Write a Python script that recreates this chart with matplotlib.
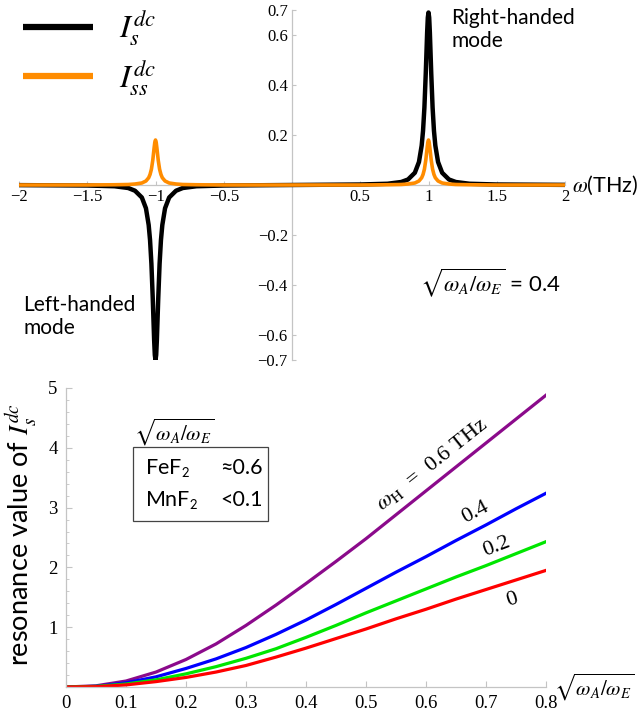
import matplotlib
matplotlib.use("Agg")
import matplotlib.pyplot as plt
import matplotlib.patches as patches

plt.rcParams['mathtext.fontset'] = 'stix'
plt.rcParams['font.family'] = ['Lato', 'DejaVu Sans']

# ---- top panel: dc spin current vs frequency ----
omega = [-2.0, -1.5, -1.3, -1.2, -1.15, -1.1, -1.07, -1.05, -1.04, -1.03, -1.02, -1.01, -1.005,
         -1.0, -0.995, -0.99, -0.98, -0.97, -0.96, -0.95, -0.93, -0.9, -0.85, -0.8, -0.7, -0.5,
         0.0,
         0.5, 0.7, 0.8, 0.85, 0.9, 0.93, 0.95, 0.96, 0.97, 0.98, 0.99, 0.995,
         1.0, 1.005, 1.01, 1.02, 1.03, 1.04, 1.05, 1.07, 1.1, 1.15, 1.2, 1.3, 1.5, 2.0]
i_s = [-0.0005, -0.002, -0.005, -0.012, -0.023, -0.050, -0.093, -0.160, -0.220, -0.315, -0.455, -0.620, -0.680,
       -0.700, -0.680, -0.620, -0.455, -0.315, -0.220, -0.160, -0.093, -0.050, -0.023, -0.012, -0.005, -0.002,
       0.0,
       0.002, 0.005, 0.012, 0.022, 0.049, 0.092, 0.158, 0.217, 0.310, 0.448, 0.610, 0.670,
       0.690, 0.670, 0.610, 0.448, 0.310, 0.217, 0.158, 0.092, 0.049, 0.022, 0.012, 0.005, 0.002, 0.0005]
i_ss = [0.0, 0.0, 0.001, 0.002, 0.004, 0.008, 0.016, 0.029, 0.042, 0.063, 0.099, 0.149, 0.171,
        0.180, 0.171, 0.149, 0.099, 0.063, 0.042, 0.029, 0.016, 0.008, 0.004, 0.002, 0.001, 0.0,
        0.0,
        0.0, 0.001, 0.002, 0.004, 0.008, 0.016, 0.029, 0.042, 0.063, 0.099, 0.149, 0.171,
        0.180, 0.171, 0.149, 0.099, 0.063, 0.042, 0.029, 0.016, 0.008, 0.004, 0.002, 0.001, 0.0, 0.0]

top_xticks = [-2, -1.5, -1, -0.5, 0.5, 1, 1.5, 2]
top_xlabels = ['\u22122', '\u22121.5', '\u22121', '\u22120.5', '0.5', '1', '1.5', '2']
top_yticks = [-0.7, -0.6, -0.4, -0.2, 0.2, 0.4, 0.6, 0.7]
top_ylabels = ['\u22120.7', '\u22120.6', '\u22120.4', '\u22120.2', '0.2', '0.4', '0.6', '0.7']

# ---- bottom panel: resonance value vs sqrt(wA/wE) ----
ratio = [0, 0.05, 0.1, 0.15, 0.2, 0.25, 0.3, 0.35, 0.4, 0.45, 0.5, 0.55, 0.6, 0.65, 0.7, 0.75, 0.8]
res_h06 = [0, 0.02, 0.10, 0.25, 0.46, 0.72, 1.03, 1.37, 1.73, 2.10, 2.48, 2.88, 3.28, 3.68, 4.08, 4.48, 4.88]
res_h04 = [0, 0.01, 0.07, 0.17, 0.31, 0.47, 0.66, 0.88, 1.12, 1.38, 1.65, 1.92, 2.18, 2.45, 2.71, 2.98, 3.24]
res_h02 = [0, 0.01, 0.05, 0.12, 0.22, 0.34, 0.48, 0.64, 0.83, 1.03, 1.24, 1.44, 1.64, 1.84, 2.03, 2.23, 2.43]
res_h00 = [0, 0.005, 0.035, 0.09, 0.16, 0.25, 0.36, 0.50, 0.65, 0.81, 0.97, 1.14, 1.30, 1.47, 1.63, 1.79, 1.95]

bot_xticks = [0, 0.1, 0.2, 0.3, 0.4, 0.5, 0.6, 0.7, 0.8]
bot_xlabels = ['0', '0.1', '0.2', '0.3', '0.4', '0.5', '0.6', '0.7', '0.8']
bot_yticks = [1, 2, 3, 4, 5]

W, H = 642, 721
gray = '#c4c4c4'
serif = 'Liberation Serif'

fig = plt.figure(figsize=(W / 100, H / 100), dpi=100)

# ================= top =================
ax1 = fig.add_axes([19 / W, 1 - 360 / H, 546 / W, 350 / H])
l1, = ax1.plot(omega, i_s, color='black', lw=3.2, zorder=3, solid_capstyle='butt')
l2, = ax1.plot(omega, i_ss, color='#ff8c00', lw=2.6, zorder=4, solid_capstyle='butt')
ax1.set_xlim(-2, 2)
ax1.set_ylim(-0.7, 0.7)
for s in ['top', 'right']:
    ax1.spines[s].set_visible(False)
for s in ['left', 'bottom']:
    ax1.spines[s].set_position(('data', 0))
    ax1.spines[s].set_color(gray)
    ax1.spines[s].set_linewidth(0.9)
ax1.set_xticks(top_xticks)
ax1.set_xticklabels(top_xlabels)
ax1.set_yticks(top_yticks)
ax1.set_yticklabels(top_ylabels)
ax1.tick_params(direction='in', length=3, color=gray, labelsize=12,
                labelfontfamily=serif, pad=3)
ax1.patch.set_alpha(0)

leg = ax1.legend([l1, l2], [r'$I_s^{dc}$', r'$I_{ss}^{dc}$'], loc='upper left',
                 bbox_to_anchor=(10 / W, 1 + 4 / H), bbox_transform=fig.transFigure,
                 frameon=False, fontsize=23, handlelength=2.2, handletextpad=0.8,
                 labelspacing=0.3, borderaxespad=0)
for ln in leg.get_lines():
    ln.set_linewidth(4.5)

ax1.text(2.05, 0, r'$\omega$(THz)', fontsize=15.5, ha='left', va='center')
ax1.text(1.165, 0.71, 'Right-handed\nmode', fontsize=15, ha='left', va='top',
         linespacing=1.2)
ax1.text(-1.97, -0.44, 'Left-handed\nmode', fontsize=15, ha='left', va='top',
         linespacing=1.2)
ax1.text(0.94, -0.39, r'$\sqrt{\omega_A/\omega_E}$ = 0.4', fontsize=16,
         ha='left', va='center')

# ================= bottom =================
ax2 = fig.add_axes([66 / W, 1 - 687 / H, 480 / W, 299 / H])
ax2.plot(ratio, res_h06, color='#8b0a8b', lw=2.3)
ax2.plot(ratio, res_h04, color='#0000ff', lw=2.3)
ax2.plot(ratio, res_h02, color='#00e600', lw=2.3)
ax2.plot(ratio, res_h00, color='#ff0000', lw=2.3)
ax2.set_xlim(0, 0.8)
ax2.set_ylim(0, 5)
for s in ['top', 'right']:
    ax2.spines[s].set_visible(False)
for s in ['left', 'bottom']:
    ax2.spines[s].set_color(gray)
    ax2.spines[s].set_linewidth(0.9)
ax2.set_xticks(bot_xticks)
ax2.set_xticklabels(bot_xlabels)
ax2.set_yticks(bot_yticks)
ax2.set_yticks([v / 5 for v in range(1, 25) if v % 5], minor=True)
ax2.tick_params(which='both', direction='in', color=gray, labelsize=13.5,
                labelfontfamily=serif, pad=6)
ax2.tick_params(which='major', length=4)
ax2.tick_params(which='minor', length=2)

ax2.text(-0.094, 0.51, r'resonance value of $I_s^{dc}$', transform=ax2.transAxes,
         rotation=90, fontsize=19.5, ha='center', va='center')
ax2.text(0.813, 0, r'$\sqrt{\omega_A/\omega_E}$', fontsize=15, ha='left', va='center')

ax2.text(0.225, 0.853, r'$\sqrt{\omega_A/\omega_E}$', transform=ax2.transAxes,
         fontsize=15, ha='center', va='center')
ax2.add_patch(patches.Rectangle((0.1396, 0.555), 0.2812, 0.248, transform=ax2.transAxes,
                                fill=False, ec='#444444', lw=0.9))
ax2.text(0.164, 0.732, r'FeF$_{\mathsf{2}}$', transform=ax2.transAxes, fontsize=15.5,
         ha='left', va='center')
ax2.text(0.164, 0.625, r'MnF$_{\mathsf{2}}$', transform=ax2.transAxes, fontsize=15.5,
         ha='left', va='center')
ax2.text(0.321, 0.732, '\u22480.6', transform=ax2.transAxes, fontsize=15.5,
         ha='left', va='center')
ax2.text(0.321, 0.625, '<0.1', transform=ax2.transAxes, fontsize=15.5,
         ha='left', va='center')

ax2.text(0.61, 3.72, r'$\omega_{\rm H}$  =  0.6 THz', fontsize=16, family=serif,
         rotation=38.5, ha='center', va='center')
ax2.text(0.682, 2.91, '0.4', fontsize=16, family=serif, rotation=28, ha='center', va='center')
ax2.text(0.718, 2.35, '0.2', fontsize=16, family=serif, rotation=21, ha='center', va='center')
ax2.text(0.743, 1.45, '0', fontsize=16, family=serif, rotation=18, ha='center', va='center')

fig.savefig('out.png', dpi=100)
